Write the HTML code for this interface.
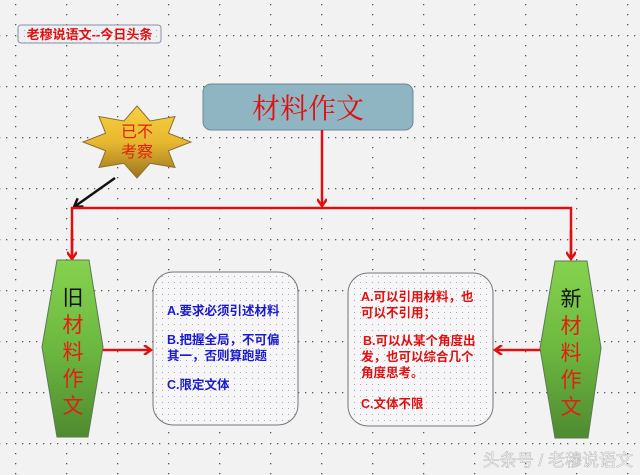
<!DOCTYPE html>
<html><head><meta charset="utf-8"><style>
html,body{margin:0;padding:0;width:640px;height:475px;overflow:hidden;background:#f2f2f2}
text{font-family:"Liberation Sans","Noto Sans CJK SC",sans-serif}
</style></head><body>
<svg width="640" height="475" viewBox="0 0 640 475" xmlns="http://www.w3.org/2000/svg">
<defs>
<pattern id="g" x="15" y="35" width="51" height="51" patternUnits="userSpaceOnUse">
<g fill="#555">
<rect x="0" y="0" width="1.3" height="1.3"/><rect x="7" y="0" width="1.3" height="1.3"/><rect x="14" y="0" width="1.3" height="1.3"/><rect x="21" y="0" width="1.3" height="1.3"/><rect x="28" y="0" width="1.3" height="1.3"/><rect x="35" y="0" width="1.3" height="1.3"/><rect x="42" y="0" width="1.3" height="1.3"/>
<rect x="0" y="10" width="1.3" height="1.3"/><rect x="0" y="20" width="1.3" height="1.3"/><rect x="0" y="30" width="1.3" height="1.3"/><rect x="0" y="40" width="1.3" height="1.3"/>
</g></pattern>
<pattern id="d" width="6" height="6" patternUnits="userSpaceOnUse"><rect x="0" y="0" width="1" height="1" fill="#aaa"/></pattern>
<linearGradient id="hx" x1="0" y1="0" x2="0" y2="1"><stop offset="0" stop-color="#86d24e"/><stop offset="0.5" stop-color="#6cb840"/><stop offset="1" stop-color="#4f8a30"/></linearGradient>
<linearGradient id="st" x1="0" y1="0" x2="0" y2="1"><stop offset="0" stop-color="#f8d040"/><stop offset="0.5" stop-color="#e8b830"/><stop offset="1" stop-color="#9c7420"/></linearGradient>
<marker id="ar" markerWidth="10" markerHeight="10" refX="8" refY="5" orient="auto" markerUnits="userSpaceOnUse"><path d="M1,0 L8,5 L1,10" fill="none" stroke="#e01010" stroke-width="2.5"/></marker>
<marker id="ak" markerWidth="12" markerHeight="12" refX="9" refY="6" orient="auto" markerUnits="userSpaceOnUse"><path d="M1,1 L9,6 L1,11" fill="none" stroke="#111" stroke-width="2.5"/></marker>
</defs>
<rect width="640" height="475" fill="url(#g)"/>

<rect x="18" y="25" width="143" height="18" rx="3" fill="#eef0f4" stroke="#8890a8"/>
<rect x="18" y="25" width="143" height="18" rx="3" fill="url(#d)"/>
<text x="89.5" y="39" font-size="13" fill="#e01010" text-anchor="middle" font-weight="bold">老穆说语文--今日头条</text>

<rect x="203" y="84" width="210" height="46" rx="8" fill="#8fb5c2" stroke="#6a8a96"/>
<text x="308" y="118" font-size="28" fill="#e01010" text-anchor="middle" style="font-family:'Noto Serif CJK SC',serif">材料作文</text>

<polygon points="137,106 150,121 175,116.5 168.4,133.2 191,142 168.4,150.8 175,167.5 150,163.3 137,178 124,163.3 99,167.5 105.6,150.8 83,142 105.6,133.2 99,116.5 124,121" fill="url(#st)" stroke="#8a7030"/>
<text x="137" y="137" font-size="16" fill="#e02010" text-anchor="middle">已不</text>
<text x="137" y="157" font-size="16" fill="#e02010" text-anchor="middle">考察</text>
<line x1="115" y1="178" x2="74" y2="207" stroke="#111" stroke-width="2.5" marker-end="url(#ak)"/>

<line x1="322" y1="130" x2="322" y2="206" stroke="#e01010" stroke-width="2.5" marker-end="url(#ar)"/>
<polyline points="72,259 72,208 571,208 571,259" fill="none" stroke="#e01010" stroke-width="2.5"/>
<line x1="72" y1="230" x2="72" y2="259" stroke="#e01010" stroke-width="2.5" marker-end="url(#ar)"/>
<line x1="571" y1="230" x2="571" y2="259" stroke="#e01010" stroke-width="2.5" marker-end="url(#ar)"/>

<polygon points="57,260 89,260 103,347 88,437 57,437 42,347" fill="url(#hx)" stroke="#5a7a50"/>
<g style="font-family:'Noto Serif CJK SC',serif" font-size="21" text-anchor="middle">
<text x="73" y="305" fill="#111">旧</text>
<text x="73" y="332" fill="#e02010">材</text>
<text x="73" y="359" fill="#e02010">料</text>
<text x="73" y="386" fill="#e02010">作</text>
<text x="73" y="413" fill="#e02010">文</text>
</g>

<polygon points="555,261 587,261 601,348 588,438 555,438 540,348" fill="url(#hx)" stroke="#5a7a50"/>
<g style="font-family:'Noto Serif CJK SC',serif" font-size="21" text-anchor="middle">
<text x="571" y="306" fill="#111">新</text>
<text x="571" y="333" fill="#e02010">材</text>
<text x="571" y="360" fill="#e02010">料</text>
<text x="571" y="387" fill="#e02010">作</text>
<text x="571" y="414" fill="#e02010">文</text>
</g>

<line x1="103" y1="350" x2="151" y2="350" stroke="#e01010" stroke-width="2.5" marker-end="url(#ar)"/>
<line x1="540" y1="350" x2="495" y2="350" stroke="#e01010" stroke-width="2.5" marker-end="url(#ar)"/>

<rect x="153" y="272" width="145" height="153" rx="20" fill="#f6f6f8" stroke="#777"/>
<rect x="153" y="272" width="145" height="153" rx="20" fill="url(#d)"/>
<g font-size="12.5" fill="#1a1ad0" font-weight="bold">
<text x="167" y="315">A.要求必须引述材料</text>
<text x="167" y="344">B.把握全局，不可偏</text>
<text x="167" y="360">其一，否则算跑题</text>
<text x="167" y="389">C.限定文体</text>
</g>

<rect x="348" y="273" width="145" height="153" rx="20" fill="#f6f6f8" stroke="#777"/>
<rect x="348" y="273" width="145" height="153" rx="20" fill="url(#d)"/>
<g font-size="12.5" fill="#e01010" font-weight="bold">
<text x="361" y="301">A.可以引用材料，也</text>
<text x="361" y="317">可以不引用；</text>
<text x="363" y="345">B.可以从某个角度出</text>
<text x="361" y="361">发，也可以综合几个</text>
<text x="361" y="377">角度思考。</text>
<text x="361" y="408">C.文体不限</text>
</g>

<text x="633" y="466" font-size="17" fill="#fff" stroke="#bbb" stroke-width="0.6" text-anchor="end">头条号 / 老穆说语文</text>
</svg>
</body></html>
